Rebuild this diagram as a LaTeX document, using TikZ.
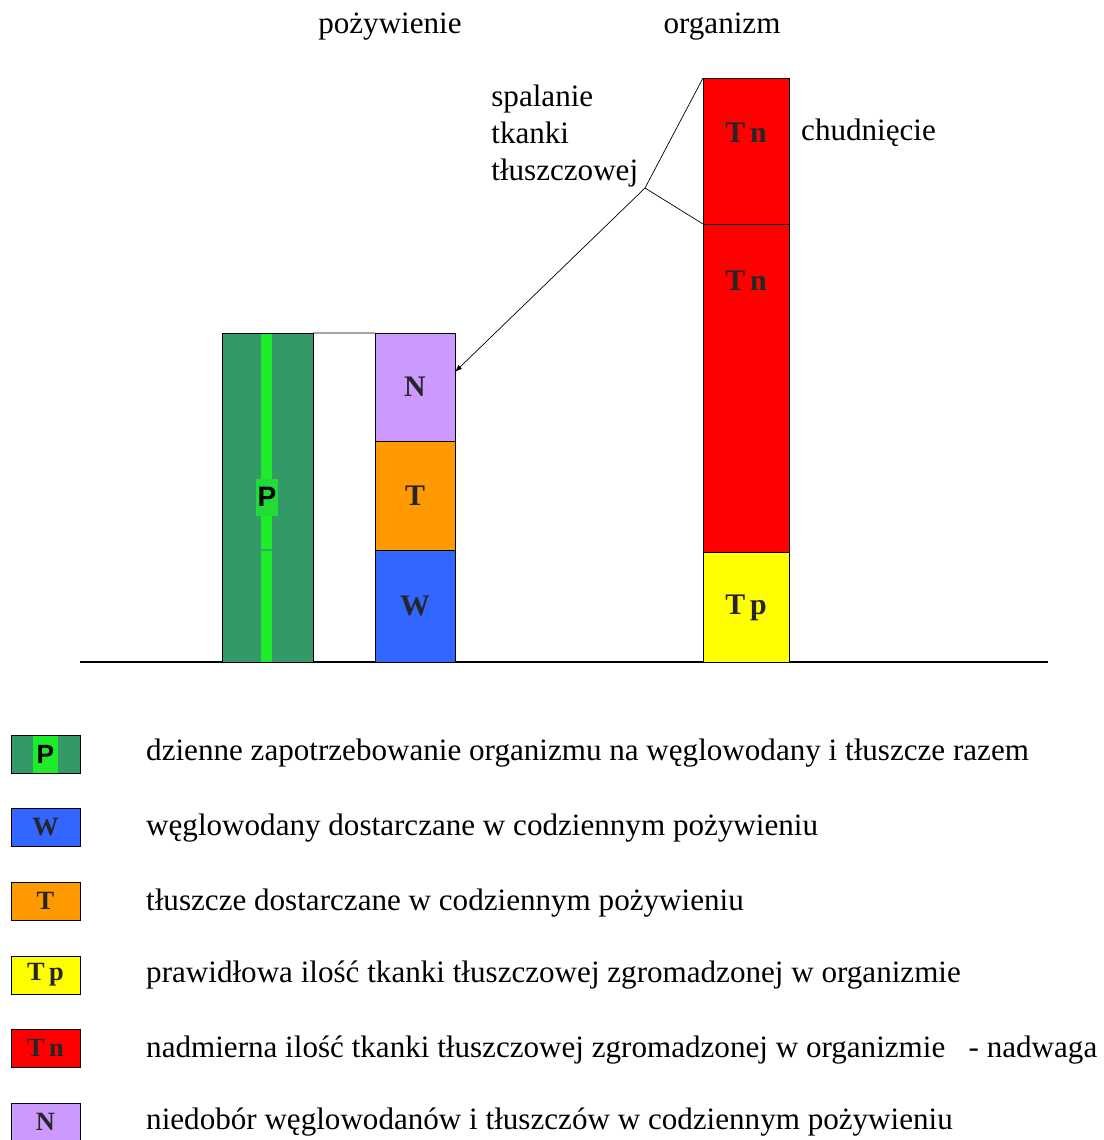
\documentclass[tikz,border=0pt]{standalone}
\usepackage{fontspec}
\setmainfont{Liberation Serif}
\setsansfont{Liberation Sans}
\usepackage{xcolor}
\usepackage{tikz}
\usetikzlibrary{arrows,positioning,shapes,calc}

\definecolor{darkgreen}{HTML}{339966}
\definecolor{lightgreen}{HTML}{1EEB2A}
\definecolor{lilac}{HTML}{CC99FF}
\definecolor{orangeT}{HTML}{FF9900}
\definecolor{blueW}{HTML}{3366FF}
\definecolor{redTn}{HTML}{FF0000}
\definecolor{yellowTp}{HTML}{FFFF00}

\tikzset{
  bar/.style = {draw, inner sep = 0pt, outer sep = 0pt},
  key/.style = {draw, inner sep = 0pt, outer sep = 0pt, minimum width = 1.38cm, minimum height = 0.76cm,
                font = \fontsize{15}{15}\selectfont\bfseries, text = black!85},
  barlabel/.style = {font = \fontsize{17}{17}\selectfont\bfseries, text = black!85},
  desc/.style = {anchor = west, font = \fontsize{17.7}{21}\selectfont},
}

\begin{document}
\begin{tikzpicture}[x = 0.02cm, y = -0.02cm]
  \useasboundingbox (0,0) rectangle (1103,1140);
  % axis
  \draw[thick] (80,662) -- (1048,662);
  % titles
  \node[font = \fontsize{17.7}{21}\selectfont] (tpoz) at (390,27) {pożywienie};
  \node[font = \fontsize{17.7}{21}\selectfont] (torg) at (722,27) {organizm};
  % food side
  \node[bar, fill = darkgreen, minimum width = 1.82cm, minimum height = 6.58cm] (p) at (267.5,497.5) {};
  \fill[lightgreen] (261,333.5) rectangle (272,661.5);
  \draw[darkgreen!80!lightgreen, line width = 1pt] (261,550) -- (272,550);
  \node[fill = lightgreen!80!darkgreen, minimum width = 0.44cm, minimum height = 0.74cm, inner sep = 0pt,
        font = \fontsize{16}{16}\selectfont\sffamily\bfseries] (plab) at (267,497) {P};
  \node[bar, fill = lilac, minimum width = 1.6cm, minimum height = 2.16cm] (n) at (415,387) {};
  \node[bar, fill = orangeT, minimum width = 1.6cm, minimum height = 2.18cm] (t) at (415,495.5) {};
  \node[bar, fill = blueW, minimum width = 1.6cm, minimum height = 2.24cm] (w) at (415,606) {};
  \node[barlabel] (nlab) at (n) {N};
  \node[barlabel] (tlab) at (t) {T};
  \node[barlabel] (wlab) at (w) {W};
  \draw (p.north east) -- (n.north west);
  % body side
  \node[bar, fill = redTn, minimum width = 1.72cm, minimum height = 2.92cm] (tn1) at (746,151) {};
  \node[bar, fill = redTn, minimum width = 1.72cm, minimum height = 6.56cm] (tn2) at (746,388) {};
  \node[bar, fill = yellowTp, minimum width = 1.72cm, minimum height = 2.2cm] (tp) at (746,607) {};
  \node[barlabel] (tn1lab) at (746,133) {T\,n};
  \node[barlabel] (tn2lab) at (746,281) {T\,n};
  \node[barlabel] (tplab) at (746,608) {T\,p};
  \node[desc] (chud) at (795,133) {chudnięcie};
  \node[anchor = north west, align = left, font = \fontsize{17.7}{21}\selectfont, inner sep = 0pt] (spal) at (491,85)
    {spalanie\\tkanki\\tłuszczowej};
  \coordinate (split) at (645,188);
  \draw (tn1.north west) -- (split) -- (tn1.south west);
  \draw[-latex] (split) -- ($(n.north east)!0.36!(n.south east)$);
  % legend
  \node[key, fill = darkgreen] (kp) at (45.5,754) {};
  \node[fill = lightgreen, minimum width = 0.5cm, minimum height = 0.74cm, inner sep = 0pt,
        font = \fontsize{15}{15}\selectfont\sffamily\bfseries] (kplab) at (45.5,754) {P};
  \node[key, fill = blueW] (kw) at (45.5,827) {W};
  \node[key, fill = orangeT] (kt) at (45.5,901) {T};
  \node[key, fill = yellowTp] (ktp) at (45.5,975) {T\,p};
  \node[key, fill = redTn] (ktn) at (45.5,1048) {T\,n};
  \node[key, fill = lilac] (kn) at (45.5,1122) {N};
  \node[desc] (dp) at (140,753) {dzienne zapotrzebowanie organizmu na węglowodany i tłuszcze razem};
  \node[desc] (dw) at (140,828) {węglowodany dostarczane w codziennym pożywieniu};
  \node[desc] (dt) at (140,903) {tłuszcze dostarczane w codziennym pożywieniu};
  \node[desc] (dtp) at (140,975) {prawidłowa ilość tkanki tłuszczowej zgromadzonej w organizmie};
  \node[desc] (dtn) at (140,1050) {nadmierna ilość tkanki tłuszczowej zgromadzonej w organizmie \ \ - nadwaga};
  \node[desc] (dn) at (140,1122) {niedobór węglowodanów i tłuszczów w codziennym pożywieniu};
\end{tikzpicture}
\end{document}
